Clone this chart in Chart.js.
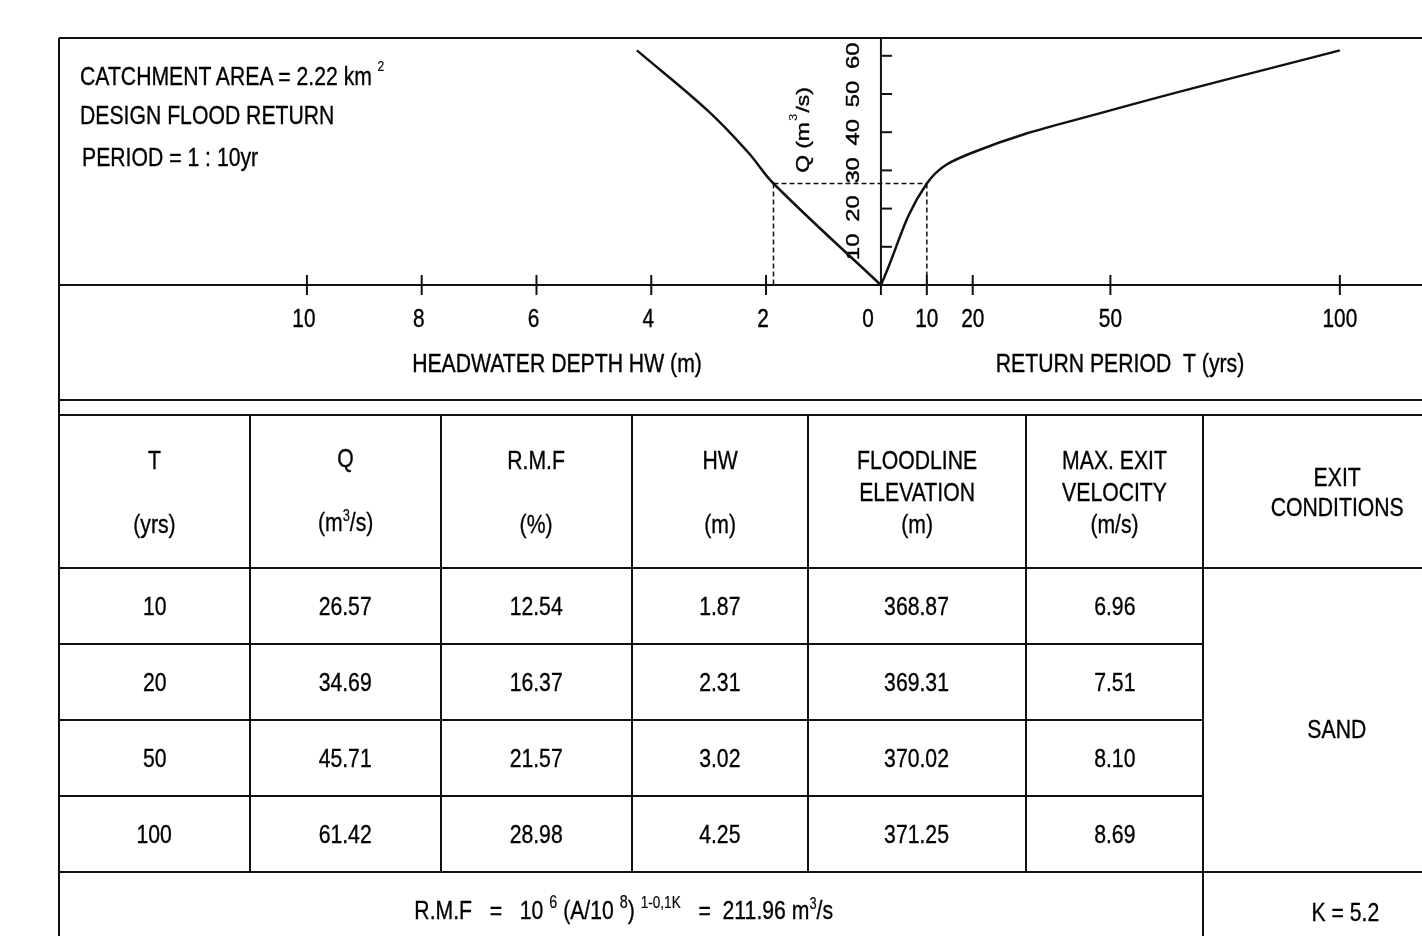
<!DOCTYPE html>
<html>
<head>
<meta charset="utf-8">
<script src="https://cdn.jsdelivr.net/npm/chart.js@4.4.1/dist/chart.umd.min.js"></script>
<style>
  html, body { margin: 0; padding: 0; background: #fff; overflow: hidden; }
  body { width: 1422px; height: 936px; position: relative; color: #000;
         font-family: "Liberation Sans", Arial, sans-serif; -webkit-text-stroke: 0.35px #000; }
  #chartBox { position: absolute; left: 0; top: 0; width: 1422px; height: 415px; }
  .note { position: absolute; font-size: 26.5px; line-height: 30px; white-space: nowrap;
          transform: scaleX(0.8); transform-origin: 0 50%; }
  .sup { position: relative; font-size: 16px; -webkit-text-stroke: 0.2px #000; }
  .n { display: inline-block; white-space: nowrap; transform: scaleX(0.8); }
  table { position: absolute; left: 58px; top: 414px; width: 1412px; border-collapse: collapse;
          table-layout: fixed; font-size: 26.5px; }
  td { border: 2px solid #111; text-align: center; vertical-align: middle; padding: 0; line-height: 32px; }
</style>
</head>
<body>
<div id="chartBox"><canvas id="hwChart" width="1422" height="415"></canvas></div>

<div class="note" style="left:80px; top:61px;">CATCHMENT AREA = 2.22 km<span class="sup" style="top:-14px; left:7px; font-size:15px">2</span></div>
<div class="note" style="left:80px; top:100px;">DESIGN FLOOD RETURN</div>
<div class="note" style="left:82px; top:142px;">PERIOD = 1 : 10yr</div>

<table id="floodTable">
  <colgroup>
    <col style="width:191px"><col style="width:191px"><col style="width:191px"><col style="width:176px">
    <col style="width:218px"><col style="width:177px"><col style="width:268px">
  </colgroup>
  <tbody id="tbody"></tbody>
</table>

<script>
// return period table (design flood = first row)
const T_YRS = [10, 20, 50, 100];
const Q_M3S = [26.57, 34.69, 45.71, 61.42];
const RMF_PCT = [12.54, 16.37, 21.57, 28.98];
const HW_M = [1.87, 2.31, 3.02, 4.25];
const FLOODLINE_M = [368.87, 369.31, 370.02, 371.25];
const EXIT_VEL = [6.96, 7.51, 8.10, 8.69];

// axis ticks
const HW_TICKS = [2, 4, 6, 8, 10];
const T_TICKS = [10, 20, 50, 100];
const Q_TICKS = [10, 20, 30, 40, 50, 60];

// both curves start at the origin
const hwCurve = [{x: 0, y: 0}].concat(HW_M.map((h, i) => ({x: h, y: Q_M3S[i]})));
const tCurve = [{x: 0, y: 0}].concat(T_YRS.map((t, i) => ({x: t, y: Q_M3S[i]})));

const FONT = '"Liberation Sans", Arial, sans-serif';
const NARROW_X = 0.8;

// table
const n = s => '<span class="n">' + s + '</span>';
const sup = (s, top, size) => '<span class="sup" style="top:' + top + 'px; font-size:' + size + 'px">' + s + '</span>';
const tbody = document.getElementById('tbody');
let html = '<tr style="height:153px">' +
  '<td>' + n('T<br>&nbsp;<br>(yrs)') + '</td>' +
  '<td>' + n('Q<br>&nbsp;<br>(m' + sup('3', -10, 16) + '/s)') + '</td>' +
  '<td>' + n('R.M.F<br>&nbsp;<br>(%)') + '</td>' +
  '<td>' + n('HW<br>&nbsp;<br>(m)') + '</td>' +
  '<td>' + n('FLOODLINE<br>ELEVATION<br>(m)') + '</td>' +
  '<td>' + n('MAX. EXIT<br>VELOCITY<br>(m/s)') + '</td>' +
  '<td style="line-height:30px">' + n('EXIT<br>CONDITIONS') + '</td></tr>';
T_YRS.forEach((t, i) => {
  html += '<tr style="height:76px">' +
    '<td>' + n(t) + '</td>' +
    '<td>' + n(Q_M3S[i].toFixed(2)) + '</td>' +
    '<td>' + n(RMF_PCT[i].toFixed(2)) + '</td>' +
    '<td>' + n(HW_M[i].toFixed(2)) + '</td>' +
    '<td>' + n(FLOODLINE_M[i].toFixed(2)) + '</td>' +
    '<td>' + n(EXIT_VEL[i].toFixed(2)) + '</td>' +
    (i === 0 ? '<td rowspan="4" style="padding-top:18px">' + n('SAND') + '</td>' : '') +
    '</tr>';
});
html += '<tr style="height:80px">' +
  '<td colspan="6" style="padding-right:14px">' +
  n('R.M.F &nbsp;&nbsp;= &nbsp;&nbsp;10 ' + sup('6', -11, 18) + ' (A/10 ' + sup('8', -11, 18) + ') ' +
    sup('1-0,1K', -11, 17) + ' &nbsp;&nbsp;= &nbsp;211.96 m' + sup('3', -10, 16) + '/s') +
  '</td><td style="padding-left:16px">' + n('K = 5.2') + '</td></tr>';
tbody.innerHTML = html;

// narrow text on the canvas
function narrowText(ctx, txt, x, y) {
    ctx.save();
    ctx.translate(x, y);
    ctx.scale(NARROW_X, 1);
    ctx.fillText(txt, 0, 0);
    ctx.strokeText(txt, 0, 0);
    ctx.restore();
}

// frame, axes, design lines and labels
const drawAxes = {
    id: 'drawAxes',
    beforeDatasetsDraw(chart) {
        const {ctx, chartArea: a, scales} = chart;
        const xHW = scales.xHW, xT = scales.xT, y = scales.y;
        const x0 = xT.getPixelForValue(0);
        const y0 = y.getPixelForValue(0);
        const line = (x1, y1, x2, y2) => {
            ctx.beginPath(); ctx.moveTo(x1, y1); ctx.lineTo(x2, y2); ctx.stroke();
        };
        ctx.save();
        ctx.strokeStyle = '#111';
        ctx.lineWidth = 2;
        line(a.left, a.top, chart.width, a.top);
        line(a.left, a.top, a.left, chart.height);
        line(a.left, y0, chart.width, y0);
        line(a.left, 400, chart.width, 400);

        // Q axis
        line(x0, a.top, x0, y0 + 10);
        Q_TICKS.forEach(v => {
            const py = y.getPixelForValue(v);
            line(x0, py, x0 + 11, py);
        });
        HW_TICKS.forEach(v => {
            const px = xHW.getPixelForValue(v);
            line(px, y0 - 10, px, y0 + 10);
        });
        T_TICKS.forEach(v => {
            const px = xT.getPixelForValue(v);
            line(px, y0 - 10, px, y0 + 10);
        });

        // design flood (T = 10) dashed lines
        const xa = xHW.getPixelForValue(HW_M[0]);
        const xb = xT.getPixelForValue(T_YRS[0]);
        const yq = y.getPixelForValue(Q_M3S[0]);
        ctx.lineWidth = 1.5;
        ctx.setLineDash([5, 3]);
        line(xa, yq, xb, yq);
        line(xa, yq, xa, y0);
        line(xb, yq, xb, y0);
        ctx.setLineDash([]);

        // tick labels
        ctx.fillStyle = '#000';
        ctx.strokeStyle = '#000';
        ctx.lineWidth = 0.4;
        ctx.font = '26px ' + FONT;
        ctx.textAlign = 'center';
        ctx.textBaseline = 'middle';
        HW_TICKS.forEach(v => narrowText(ctx, String(v), xHW.getPixelForValue(v) - 3, y0 + 35));
        T_TICKS.forEach(v => narrowText(ctx, String(v), xT.getPixelForValue(v), y0 + 35));
        narrowText(ctx, '0', x0 - 13, y0 + 35);
        ctx.font = '26.5px ' + FONT;
        narrowText(ctx, 'HEADWATER DEPTH HW (m)', 557, y0 + 80);
        narrowText(ctx, 'RETURN PERIOD  T (yrs)', 1120, y0 + 80);

        // rotated Q labels
        ctx.font = '19px ' + FONT;
        Q_TICKS.forEach(v => {
            ctx.save();
            ctx.translate(x0 - 27, y.getPixelForValue(v));
            ctx.rotate(-Math.PI / 2);
            ctx.scale(1.25, 1);
            ctx.fillText(String(v), 0, 0);
            ctx.strokeText(String(v), 0, 0);
            ctx.restore();
        });
        ctx.save();
        ctx.translate(804, 130);
        ctx.rotate(-Math.PI / 2);
        ctx.scale(1.2, 1);
        ctx.textAlign = 'left';
        const p1 = 'Q (m', p3 = '/s)';
        ctx.font = '19px ' + FONT;
        const w1 = ctx.measureText(p1).width, w3 = ctx.measureText(p3).width;
        ctx.font = '11px ' + FONT;
        const w2 = ctx.measureText('3').width + 2;
        const sx = -(w1 + w2 + w3) / 2;
        ctx.font = '19px ' + FONT;
        ctx.fillText(p1, sx, 0);
        ctx.strokeText(p1, sx, 0);
        ctx.font = '11px ' + FONT;
        ctx.fillText('3', sx + w1 + 1, -10);
        ctx.font = '19px ' + FONT;
        ctx.fillText(p3, sx + w1 + w2, 0);
        ctx.strokeText(p3, sx + w1 + w2, 0);
        ctx.restore();

        ctx.restore();
    }
};

const chartCtx = document.getElementById('hwChart').getContext('2d');
new Chart(chartCtx, {
    type: 'line',
    data: {
        datasets: [{
            label: 'HW',
            data: hwCurve,
            xAxisID: 'xHW',
            yAxisID: 'y',
            borderColor: '#111',
            borderWidth: 2.5,
            pointRadius: 0,
            tension: 0.4,
            fill: false,
            clip: false
        }, {
            label: 'T',
            data: tCurve,
            xAxisID: 'xT',
            yAxisID: 'y',
            borderColor: '#111',
            borderWidth: 2.5,
            pointRadius: 0,
            tension: 0.4,
            fill: false,
            clip: false
        }]
    },
    options: {
        responsive: false,
        animation: false,
        layout: {
            padding: {left: 59, right: 0, top: 38, bottom: 130}
        },
        plugins: {
            legend: {display: false},
            tooltip: {enabled: false}
        },
        scales: {
            // origin of both x scales at the same pixel
            xHW: {type: 'linear', axis: 'x', reverse: true, min: -9.43, max: 14.32, display: false},
            xT: {type: 'linear', axis: 'x', min: -179.1, max: 117.9, display: false},
            y: {type: 'linear', min: 0, max: 64.66, display: false}
        }
    },
    plugins: [drawAxes]
});
</script>
</body>
</html>
